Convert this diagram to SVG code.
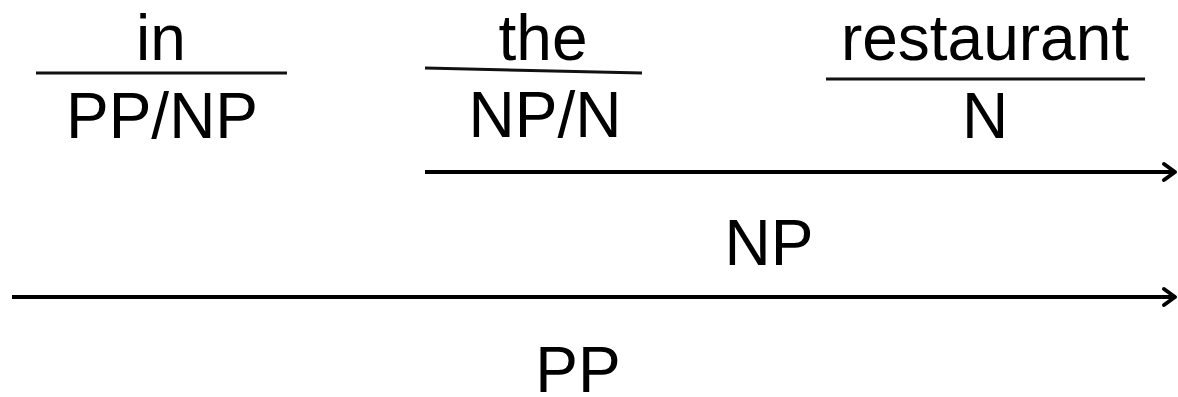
<svg xmlns="http://www.w3.org/2000/svg" width="1178" height="397" viewBox="0 0 1178 397">
<style>
text{font-family:"Liberation Sans",Arial,sans-serif;font-size:64px;fill:#000;text-anchor:middle}
.bar{stroke:#111;stroke-width:3;fill:none}
.arr{stroke:#000;stroke-width:4;fill:none}
.head{stroke:#000;stroke-width:4;fill:none;stroke-linecap:round;stroke-linejoin:round}
</style>
<rect width="1178" height="397" fill="#fff"/>
<g id="word-in">
<text x="161" y="60">in</text>
<line class="bar" x1="36" y1="73" x2="287" y2="73"/>
<text x="162" y="138">PP/NP</text>
</g>
<g id="word-the">
<text x="543" y="60">the</text>
<line class="bar" x1="425" y1="68" x2="642" y2="73"/>
<text x="545" y="137">NP/N</text>
</g>
<g id="word-restaurant">
<text x="985" y="60">restaurant</text>
<line class="bar" x1="826" y1="79" x2="1145" y2="79"/>
<text x="985" y="138">N</text>
</g>
<g id="connectors">
<line class="arr" x1="425" y1="172" x2="1174" y2="172"/>
<polyline class="head" points="1164,164 1175,172 1164,180"/>
<line class="arr" x1="12" y1="297" x2="1174" y2="297"/>
<polyline class="head" points="1164,289 1175,297 1164,305"/>
</g>
<g id="result-np">
<text x="769" y="265">NP</text>
</g>
<g id="result-pp">
<text x="578" y="392">PP</text>
</g>
</svg>
